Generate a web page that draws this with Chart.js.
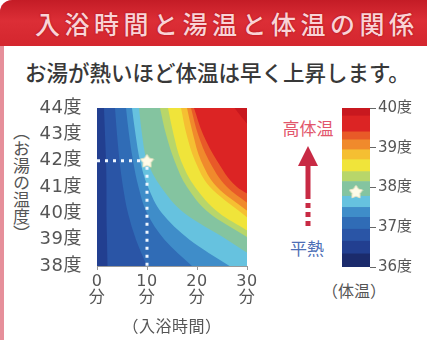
<!DOCTYPE html>
<html lang="ja">
<head>
<meta charset="utf-8">
<title>入浴時間と湯温と体温の関係</title>
<script src="https://cdn.jsdelivr.net/npm/chart.js@4.4.1/dist/chart.umd.min.js"></script>
<style>
  html, body { margin: 0; padding: 0; background: #fff; }
  body {
    width: 427px; height: 340px; position: relative; overflow: hidden;
    font-family: "Noto Sans CJK JP", "Noto Sans", sans-serif;
  }
  .frame {
    position: absolute; left: 0; top: 0; width: 427px; height: 340px;
    box-sizing: border-box; border-left: 4px solid #e68f9a;
    border-top-left-radius: 12px;
  }
  .banner {
    position: absolute; left: 0; top: 0; width: 427px; height: 46px;
    background: linear-gradient(#c41c26, #dc2e36 45%, #d4262e);
    border-top-left-radius: 12px;
  }
  .banner h1 {
    margin: 0; position: absolute; left: 35px; top: 6px; white-space: nowrap;
    font-size: 25px; line-height: 34px; letter-spacing: 4.5px;
    color: #fad3d6; font-weight: 500;
    text-shadow: 0 0 2px #9c0f18;
  }
  .sub {
    position: absolute; left: 25px; top: 59px; white-space: nowrap;
    font-size: 21.5px; line-height: 26px; color: #383838; font-weight: 500;
  }
  .ytitle {
    position: absolute; left: 12px; top: 123px;
    writing-mode: vertical-rl; font-size: 17px; line-height: 18px; color: #555;
  }
  .note { position: absolute; font-size: 17px; line-height: 20px; white-space: nowrap; transform: translateX(-50%); }
  .hot { left: 308px; top: 118px; color: #e2566c; }
  .norm { left: 307px; top: 238px; color: #4e6fb6; }
  .unit { left: 354px; top: 280px; color: #555; font-size: 16px; }
  canvas { position: absolute; }
  #heat { left: 0; top: 90px; }
  #scale { left: 300px; top: 90px; }
  svg { position: absolute; left: 290px; top: 140px; }
</style>
</head>
<body>
<div class="frame"></div>
<div class="banner"><h1>入浴時間と湯温と体温の関係</h1></div>
<div class="sub">お湯が熱いほど体温は早く上昇します。</div>
<div class="ytitle">（お湯の温度）</div>
<div class="note hot">高体温</div>
<div class="note norm">平熱</div>
<div class="note unit">（体温）</div>
<svg width="40" height="100" viewBox="290 140 40 100">
  <polygon points="308,146 298,166 318,166" fill="#c82a44"/>
  <rect x="305.5" y="164" width="5" height="35" fill="#c82a44"/>
  <rect x="305.5" y="203" width="5" height="5" fill="#c82a44"/>
  <rect x="305.5" y="212" width="5" height="5" fill="#c82a44"/>
  <rect x="305.5" y="221" width="5" height="5" fill="#c82a44"/>
</svg>
<canvas id="heat" width="262" height="250"></canvas>
<canvas id="scale" width="127" height="220"></canvas>
<script>
// Water temperature (y axis, 度) and bathing time ticks (x axis, 分)
const waterTemps = [38, 39, 40, 41, 42, 43, 44];
const minuteTicks = [0, 10, 20, 30];

// Body temperature levels that separate the colour bands (度)
const bandEdges = [36, 36.33, 36.65, 36.95, 37.25, 37.5, 37.78, 38.15, 38.4, 38.7, 38.95, 39.2, 39.4, 39.8, 40];
const bandColors = ['#1b2b6c', '#223f90', '#2a55a6', '#306cb6', '#3f8dc9', '#66c2df', '#84c4a0',
                    '#b8d66a', '#f0e43a', '#f5bf32', '#f08a2c', '#e85a28', '#dc2424', '#c8181f'];

// Body temperature at the start of the bath (lowest band shown in the plot)
const startBand = 1;

// Minutes in the bath until each body temperature is reached, one value per water temperature
// (null where it takes longer than 30 minutes)
const reach36_65 = [2.1, 2.0, 1.9, 1.9, 1.8, 1.6, 1.4];
const reach36_95 = [10.0, 7.8, 6.2, 5.2, 4.5, 4.0, 3.6];
const reach37_25 = [19.0, 13.5, 10.0, 8.3, 7.2, 6.4, 5.8];
const reach37_5  = [26.5, 18.5, 13.0, 10.2, 8.6, 7.7, 7.0];
const reach37_78 = [null, 26.0, 17.5, 12.8, 10.0, 9.0, 8.4];
const reach38_15 = [null, null, 22.5, 18.0, 15.5, 13.8, 12.6];
const reach38_4  = [null, null, 24.5, 19.6, 16.8, 15.3, 14.2];
const reach38_7  = [null, null, 29.0, 22.6, 19.6, 17.9, 16.8];
const reach38_95 = [null, null, null, 24.0, 20.8, 19.2, 18.0];
const reach39_2  = [null, null, null, 26.0, 22.4, 20.2, 18.8];
const reach39_4  = [null, null, null, 28.0, 24.0, 21.2, 19.4];
const reach39_8  = [null, null, null, null, null, null, 27.5];

// Water temperature at which a level is reached after exactly 30 minutes
const edgeAt30 = [null, null, null, null, 38.5, 39.1, 39.35, 39.85, 40.1, 40.4, 40.75, 43.4];

// Example marker: 42度 for 10分 gives about 37.9度
const examplePoint = { minutes: 10, water: 42, body: 37.9 };

const reachTables = [reach36_65, reach36_95, reach37_25, reach37_5, reach37_78, reach38_15,
                     reach38_4, reach38_7, reach38_95, reach39_2, reach39_4, reach39_8];

Chart.defaults.font.family = '"Noto Sans CJK JP", "Noto Sans", sans-serif';
Chart.defaults.color = '#555';
const tickFamily = '"DejaVu Sans", "Noto Sans CJK JP", sans-serif';

function makeStar(size) {
  const c = document.createElement('canvas');
  c.width = c.height = size;
  const g = c.getContext('2d');
  const cx = size / 2, cy = size / 2 + size * 0.05, R = size * 0.46, r = R * 0.58;
  g.beginPath();
  for (let k = 0; k < 10; k++) {
    const a = -Math.PI / 2 + k * Math.PI / 5;
    const rad = k % 2 ? r : R;
    g.lineTo(cx + rad * Math.cos(a), cy + rad * Math.sin(a));
  }
  g.closePath();
  g.fillStyle = '#fffbe8';
  g.fill();
  g.strokeStyle = '#efe6c4';
  g.lineWidth = 1;
  g.stroke();
  return c;
}
const star = makeStar(15);

// Isolines: each one is filled towards the 30-minute edge with the band colour above its level
const isoDatasets = reachTables.map((times, i) => {
  const pts = [];
  if (edgeAt30[i] !== null) pts.push({ x: 30, y: edgeAt30[i] });
  times.forEach((t, j) => { if (t !== null) pts.push({ x: t, y: waterTemps[j] }); });
  return {
    data: pts,
    fill: { value: 30 },
    backgroundColor: bandColors[startBand + 1 + i],
    borderWidth: 0,
    pointRadius: 0,
    cubicInterpolationMode: 'monotone'
  };
}).reverse();

const chartBackground = {
  id: 'chartBackground',
  beforeDatasetsDraw(chart) {
    const { ctx, chartArea: a } = chart;
    ctx.save();
    ctx.fillStyle = bandColors[startBand];
    ctx.fillRect(a.left, a.top, a.right - a.left, a.bottom - a.top);
    ctx.restore();
  }
};

const wideLetters = {
  id: 'wideLetters',
  beforeDraw(chart, args, opts) { chart.ctx.letterSpacing = opts.spacing || '0px'; }
};

new Chart(document.getElementById('heat'), {
  type: 'line',
  data: {
    datasets: [
      {
        data: [{ x: examplePoint.minutes, y: examplePoint.water }],
        showLine: false, pointStyle: star, pointRadius: 7
      },
      {
        data: [{ x: 0, y: examplePoint.water }, { x: examplePoint.minutes, y: examplePoint.water },
               { x: examplePoint.minutes, y: waterTemps[0] }],
        borderColor: '#eef6ff', borderWidth: 3, borderDash: [3, 5], borderCapStyle: 'butt',
        pointRadius: 0, fill: false, tension: 0
      },
      ...isoDatasets
    ]
  },
  options: {
    indexAxis: 'y',
    responsive: false,
    animation: false,
    layout: { padding: { top: 18, right: 15, left: 0, bottom: 0 } },
    plugins: { legend: { display: false }, tooltip: { enabled: false }, wideLetters: { spacing: '0.5px' } },
    scales: {
      x: {
        type: 'linear', min: 0, max: 30,
        afterBuildTicks(scale) { scale.ticks = minuteTicks.map(v => ({ value: v })); },
        afterFit(scale) { scale.height = 74; },
        grid: { display: true, drawOnChartArea: false, tickLength: 4, color: '#999' },
        border: { display: true, color: '#999' },
        ticks: {
          maxRotation: 0, autoSkip: false, padding: 3, color: '#555',
          font: { family: tickFamily, size: 16, lineHeight: 1.05 },
          callback: v => [String(v), '分']
        },
        title: { display: true, text: '（入浴時間）', color: '#555', font: { size: 16 }, padding: { top: 0, bottom: 4 } }
      },
      y: {
        type: 'linear', min: 38, max: 44,
        afterBuildTicks(scale) { scale.ticks = waterTemps.map(v => ({ value: v })); },
        afterFit(scale) { scale.width = 97; },
        grid: { display: false },
        border: { display: true, color: '#999' },
        ticks: { padding: 7, color: '#555', font: { family: tickFamily, size: 18 }, callback: v => v + '度' }
      }
    }
  },
  plugins: [chartBackground, wideLetters]
});

// Colour scale for body temperature
const scaleDatasets = bandColors.map((c, i) => ({
  data: [[bandEdges[i], bandEdges[i + 1]]],
  backgroundColor: c,
  borderWidth: 0,
  barPercentage: 1,
  categoryPercentage: 1,
  grouped: false
}));

new Chart(document.getElementById('scale'), {
  type: 'bar',
  data: {
    labels: ['体温'],
    datasets: [
      {
        type: 'line', data: [{ x: '体温', y: examplePoint.body }],
        showLine: false, pointStyle: star, pointRadius: 7
      },
      ...scaleDatasets
    ]
  },
  options: {
    responsive: false,
    animation: false,
    layout: { padding: { top: 18, left: 42, right: 0, bottom: 43 } },
    plugins: { legend: { display: false }, tooltip: { enabled: false } },
    scales: {
      x: { display: false },
      y: {
        position: 'right', min: 36, max: 40,
        afterFit(scale) { scale.width = 57; },
        grid: { display: true, drawOnChartArea: false, tickLength: 6, color: '#666' },
        border: { display: false },
        ticks: { stepSize: 1, padding: 2, color: '#555', font: { family: tickFamily, size: 15 }, callback: v => v + '度' }
      }
    }
  }
});
</script>
</body>
</html>
